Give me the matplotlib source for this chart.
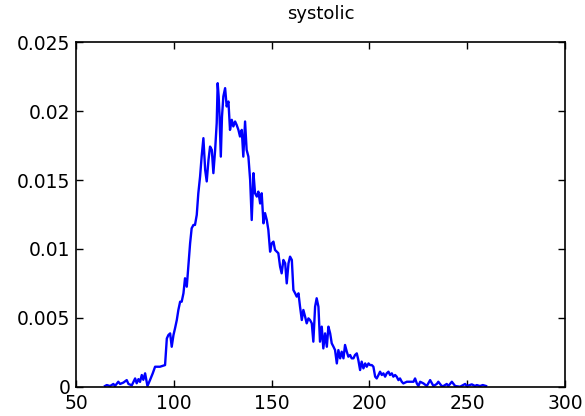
import matplotlib
matplotlib.use('Agg')
import matplotlib.pyplot as plt

# systolic density
bp = [64.8, 65.7, 67.4, 69.1, 69.9, 71.6, 72.5, 74.2, 75.9, 76.8, 78.5, 80.2, 81.0, 81.9, 82.7,
      83.6, 84.4, 85.3, 86.5, 87.8, 89.2, 90.4, 92.9, 95.5, 96.4, 97.2, 98.1, 98.9, 99.8,
      100.6, 101.5, 102.3, 103.2, 104.0, 104.9, 105.7, 106.6, 107.4, 108.3, 109.1, 110.0,
      110.8, 111.7, 112.5, 113.4, 114.2, 115.1, 116.0, 116.8, 117.7, 118.5, 119.4, 120.2,
      121.1, 121.9, 122.4, 122.9, 123.3, 124.0, 124.6, 125.3, 126.2, 127.0, 127.9, 128.7,
      129.6, 130.4, 131.3, 132.1, 133.0, 133.8, 134.7, 135.5, 136.4, 137.2, 138.1, 139.0,
      139.8, 140.7, 141.5, 142.4, 143.2, 144.1, 144.9, 145.8, 146.6, 147.5, 148.3, 149.2,
      150.0, 150.9, 151.7, 152.6, 153.4, 154.3, 155.1, 156.0, 156.9, 157.7, 158.6, 159.4,
      160.3, 161.1, 162.0, 162.8, 163.7, 164.5, 165.4, 166.2, 167.1, 167.9, 168.8, 169.6,
      170.5, 171.3, 172.2, 173.0, 173.9, 174.7, 175.6, 176.4, 177.3, 178.2, 179.0, 179.9,
      180.7, 181.6, 182.4, 183.3, 184.1, 185.0, 185.8, 186.7, 187.5, 188.4, 189.2, 190.1,
      190.9, 191.8, 192.6, 193.5, 194.3, 195.2, 196.0, 196.9, 197.8, 198.6, 199.5, 200.3,
      201.2, 202.0, 202.9, 203.7, 204.6, 205.4, 206.3, 207.1, 208.0, 208.8, 209.7, 210.5,
      211.4, 212.2, 213.1, 213.9, 214.8, 215.6, 216.5, 217.3, 219.1, 220.8, 222.5, 223.3,
      224.2, 225.0, 225.9, 227.6, 229.3, 231.0, 232.7, 234.4, 235.2, 236.9, 237.8, 239.5,
      240.3, 242.1, 243.8, 246.3, 248.9, 249.7, 252.3, 254.0, 254.8, 256.5, 257.9, 259.6]

# in units of 1e-3
dens = [0.05, 0.12, 0.05, 0.2, 0.05, 0.36, 0.2, 0.3, 0.48, 0.2, 0.1, 0.6, 0.25, 0.55, 0.35,
        0.85, 0.5, 0.97, 0.05, 0.48, 0.97, 1.45, 1.45, 1.57, 3.5, 3.75, 3.87, 2.9, 3.75,
        4.24, 4.84, 5.57, 6.17, 6.17, 6.78, 7.87, 7.26, 8.72, 10.4, 11.5, 11.74,
        11.74, 12.47, 14.04, 15.25, 16.7, 18.04, 15.74, 14.9, 16.46, 17.43, 17.19, 15.5,
        17.19, 19.13, 22.03, 21.07, 19.85, 16.7, 19.6, 21.07, 21.67, 20.34, 20.7, 18.64,
        19.37, 18.89, 19.25, 19.0, 18.64, 18.16, 18.64, 16.7, 19.25, 17.19, 16.7, 15.0,
        12.1, 15.5, 14.04, 13.8, 14.16, 13.3, 14.04, 11.86, 12.6, 12.1, 11.38, 9.8,
        10.4, 10.53, 9.93, 9.8, 9.69, 8.72, 8.23, 9.2, 8.96, 7.5, 8.96, 9.44,
        9.2, 7.02, 6.78, 6.54, 6.78, 5.81, 4.84, 5.57, 5.08, 4.6, 4.96, 4.84,
        4.6, 3.27, 5.81, 6.42, 5.81, 3.27, 4.36, 2.78, 3.87, 2.9, 4.36, 3.87,
        3.15, 2.9, 2.66, 1.69, 2.66, 2.06, 2.54, 2.06, 3.03, 2.54, 2.18, 2.3,
        2.06, 2.06, 2.3, 2.42, 1.94, 1.21, 1.82, 1.33, 1.69, 1.45, 1.69, 1.57,
        1.57, 1.45, 0.73, 0.6, 0.85, 1.09, 0.85, 0.97, 0.73, 0.97, 1.09, 0.85,
        0.97, 0.73, 0.85, 0.73, 0.48, 0.6, 0.36, 0.24, 0.36, 0.36, 0.36, 0.6,
        0.24, 0.05, 0.36, 0.24, 0.05, 0.48, 0.05, 0.2, 0.36, 0.05, 0.05, 0.2,
        0.05, 0.36, 0.05, 0.0, 0.2, 0.05, 0.17, 0.05, 0.12, 0.05, 0.12, 0.05]
dens = [d / 1000 for d in dens]

xticks = [50, 100, 150, 200, 250, 300]
yticks = [0, 0.005, 0.01, 0.015, 0.02, 0.025]
ylabels = ['0', '0.005', '0.01', '0.015', '0.02', '0.025']

plt.rcParams['font.family'] = ['DejaVu Sans']

fig = plt.figure(figsize=(5.85, 4.16), dpi=100)
ax = fig.add_axes([0.130, 0.0704, 0.836, 0.828])
ax.plot(bp, dens, color='#0000ff', linewidth=1.7)

ax.set_xlim(50, 300)
ax.set_ylim(0, 0.025)
ax.set_xticks(xticks)
ax.set_yticks(yticks)
ax.set_yticklabels(ylabels)
ax.tick_params(direction='in', length=5, width=1, labelsize=13.5, top=True, right=True)
ax.tick_params(axis='y', pad=4)
ax.tick_params(axis='x', pad=5.5)
for s in ax.spines.values():
    s.set_linewidth(1.2)
ax.set_title('systolic', fontsize=13, pad=17)

fig.savefig('out.png', dpi=100)
